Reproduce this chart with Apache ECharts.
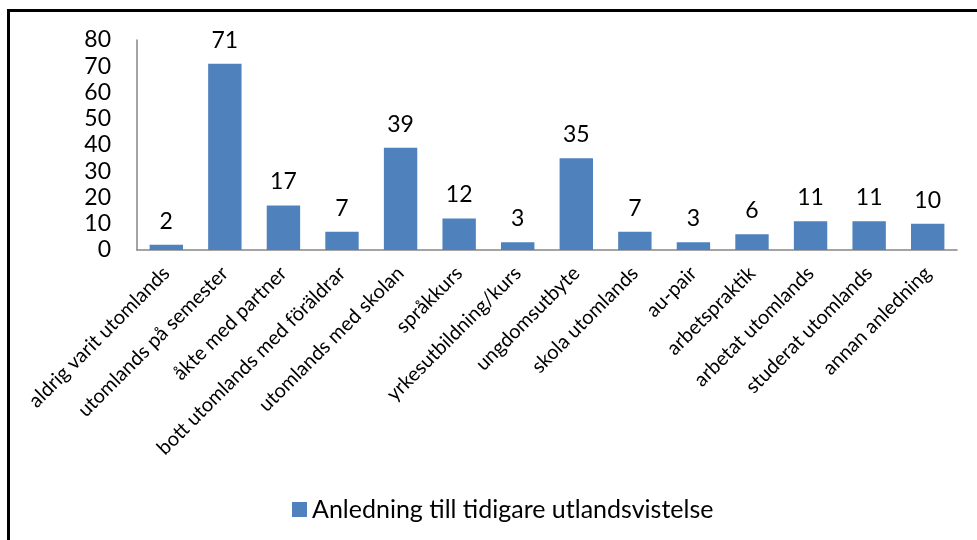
<!DOCTYPE html>
<html>
<head>
<meta charset="utf-8">
<script src="https://cdn.jsdelivr.net/npm/echarts@6/dist/echarts.min.js"></script>
<style>
html, body { margin: 0; padding: 0; background: #fff; }
#main { width: 977px; height: 540px; }
</style>
</head>
<body>
<div id="main"></div>
<script>
// kategorier och antal
var categories = [
	'aldrig varit utomlands',
	'utomlands på semester',
	'åkte med partner',
	'bott utomlands med föräldrar',
	'utomlands med skolan',
	'språkkurs',
	'yrkesutbildning/kurs',
	'ungdomsutbyte',
	'skola utomlands',
	'au-pair',
	'arbetspraktik',
	'arbetat utomlands',
	'studerat utomlands',
	'annan anledning'
];
var values = [2, 71, 17, 7, 39, 12, 3, 35, 7, 3, 6, 11, 11, 10];
var seriesName = 'Anledning till tidigare utlandsvistelse';
var yTicks = [0, 10, 20, 30, 40, 50, 60, 70, 80];

var font = 'Lato';
var myChart = echarts.init(document.getElementById('main'));

var option = {
	animation: false,
	textStyle: { fontFamily: font },
	graphic: [
		{ type: 'rect', shape: { x: 7, y: 9, width: 970, height: 3 }, style: { fill: '#000' } },
		{ type: 'rect', shape: { x: 7, y: 9, width: 3, height: 531 }, style: { fill: '#000' } }
	],
	grid: {
		left: 137,
		right: 20,
		top: 40,
		bottom: 290,
		containLabel: false
	},
	legend: {
		data: [seriesName],
		left: 287,
		top: 492,
		itemWidth: 15,
		itemHeight: 15,
		itemGap: 6,
		icon: 'rect',
		textStyle: { fontFamily: font, fontSize: 25, color: '#000' }
	},
	xAxis: {
		type: 'category',
		data: categories,
		axisLine: { lineStyle: { color: '#868686', width: 1.5 } },
		axisTick: { show: false },
		axisLabel: {
			interval: 0,
			rotate: 45,
			margin: 20,
			fontFamily: font,
			fontSize: 20,
			color: '#000'
		}
	},
	yAxis: {
		type: 'value',
		min: 0,
		max: yTicks[yTicks.length - 1],
		interval: 10,
		axisLine: { show: true, lineStyle: { color: '#868686', width: 1.5 } },
		axisTick: { show: false },
		splitLine: { show: false },
		axisLabel: {
			margin: 26,
			fontFamily: font,
			fontSize: 23,
			color: '#000'
		}
	},
	series: [{
		name: seriesName,
		type: 'bar',
		data: values,
		barWidth: '57%',
		itemStyle: { color: '#4F81BD' },
		label: {
			show: true,
			position: 'top',
			distance: 12,
			fontFamily: font,
			fontSize: 23,
			color: '#000'
		}
	}]
};

myChart.setOption(option);
</script>
</body>
</html>
